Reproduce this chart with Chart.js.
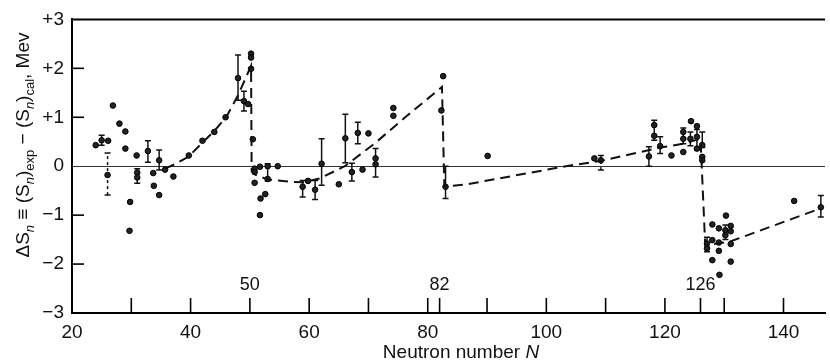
<!DOCTYPE html>
<html>
<head>
<meta charset="utf-8">
<script src="https://cdn.jsdelivr.net/npm/chart.js@4/dist/chart.umd.min.js"></script>
<style>
html,body{margin:0;padding:0;background:#fff;}
#wrap{width:830px;height:364px;position:relative;}
</style>
</head>
<body>
<div id="wrap"><canvas id="c" width="830" height="364"></canvas></div>
<script>
// ---- data ----
const ptN  = [24.0,25.0,26.1,26.0,26.9,28.0,29.0,29.0,29.8,29.7,30.9,31.0,31.0,32.8,33.7,33.8,34.7,34.7,35.7,37.1,
              39.7,42.0,44.0,45.9,48.0,49.0,49.7,50.2,50.2,50.2,50.5,50.8,50.8,50.8,51.7,51.7,51.8,52.6,53.0,53.0,
              54.7,58.9,59.8,61.0,62.1,65.0,66.1,67.2,68.2,69.0,70.0,71.2,71.2,74.2,74.2,82.6,82.3,83.0,
              90.1,108.1,109.2,117.3,118.2,118.2,119.2,121.1,123.1,123.1,123.1,124.4,125.4,124.3,125.4,125.4,126.3,126.3,126.3,
              127.1,127.1,128.0,128.0,128.0,129.1,129.1,129.1,129.2,130.3,130.2,130.2,131.1,131.1,131.1,131.1,141.8,146.3];
const ptDS = [0.43,0.53,0.52,-0.18,1.24,0.87,0.71,0.36,-0.73,-1.32,0.22,-0.13,-0.23,0.31,-0.14,-0.40,-0.59,0.12,-0.07,-0.21,
              0.22,0.52,0.70,1.00,1.80,1.33,1.27,2.30,2.22,1.99,0.55,-0.05,-0.12,-0.34,-0.01,-1.00,-0.66,-0.57,0.00,-0.26,
              0.00,-0.42,-0.30,-0.48,0.05,-0.37,0.57,-0.12,0.68,-0.07,0.67,0.16,0.04,1.19,1.03,1.84,1.14,-0.42,
              0.21,0.16,0.12,0.20,0.84,0.62,0.41,0.22,0.29,0.70,0.56,0.92,0.82,0.56,0.60,0.36,0.43,0.19,0.12,
              -1.58,-1.68,-1.19,-1.51,-1.92,-1.27,-1.56,-1.73,-2.22,-1.01,-1.31,-1.41,-1.22,-1.33,-1.59,-1.95,-0.71,-0.84];

// solid error bars
const errN  = [25.0,31.0,32.8,34.7,48.0,49.0,53.0,58.9,61.0,62.1,66.1,67.2,68.2,71.2,83.0,117.3,118.2,119.2,123.1,124.3,125.4,126.3,127.1,130.2,146.3];
const errLo = [0.43,-0.35,0.08,-0.08,1.35,1.13,-0.30,-0.63,-0.68,-0.39,0.07,-0.30,0.46,-0.22,-0.66,0.00,0.53,0.26,0.46,0.42,0.33,0.38,-1.75,-1.50,-1.04];
const errHi = [0.63,-0.05,0.52,0.33,2.27,1.53,0.05,-0.29,-0.29,0.56,1.06,0.06,0.90,0.36,0.00,0.40,0.94,0.60,0.78,0.70,0.75,0.70,-1.45,-1.20,-0.60];
// dashed error bars
const dErrN  = [26.0,109.2];
const dErrLo = [-0.59,-0.08];
const dErrHi = [0.27,0.22];

// dashed theoretical curve
const curveN  = [35.7,37.5,39.7,42.0,44.0,46.0,48.0,50.2,50.3,51.0,53.0,57.0,59.0,61.8,66.0,71.0,76.6,82.4,
                 82.8,86.6,103.3,109.2,119.2,123.1,126.0,126.8,131.0,146.3];
const curveDS = [-0.05,0.05,0.20,0.48,0.72,1.00,1.45,2.05,-0.10,-0.18,-0.27,-0.32,-0.33,-0.25,0.00,0.46,1.04,1.62,
                 -0.42,-0.37,0.00,0.11,0.38,0.46,0.56,-1.62,-1.54,-0.86];

const xTickVals = [20,30,40,50,60,70,80,82,90,100,110,120,126,130,140];
const xLabelVals = [20,40,60,80,100,120,140];
const magicN = [50,82,126];
const yTickVals = [-3,-2,-1,0,1,2,3];

const FONT = "'Liberation Sans', Arial, Helvetica, sans-serif";

const extras = {
  id: 'extras',
  beforeDatasetsDraw(chart) {
    const {ctx, scales:{x, y}} = chart;
    ctx.save();
    ctx.strokeStyle = '#111';
    ctx.lineWidth = 1.5;
    const bar = (n, lo, hi, dashed) => {
      const px = x.getPixelForValue(n);
      const p1 = y.getPixelForValue(lo), p2 = y.getPixelForValue(hi);
      ctx.setLineDash(dashed ? [3,3] : []);
      ctx.beginPath(); ctx.moveTo(px, p1); ctx.lineTo(px, p2); ctx.stroke();
      ctx.setLineDash([]);
      ctx.beginPath();
      ctx.moveTo(px-3, p1); ctx.lineTo(px+3, p1);
      ctx.moveTo(px-3, p2); ctx.lineTo(px+3, p2);
      ctx.stroke();
    };
    errN.forEach((n,i)=>bar(n, errLo[i], errHi[i], false));
    dErrN.forEach((n,i)=>bar(n, dErrLo[i], dErrHi[i], true));
    ctx.restore();
  },
  afterDraw(chart) {
    const {ctx, chartArea:a, scales:{x, y}} = chart;
    ctx.save();
    ctx.strokeStyle = '#000';
    // top frame
    ctx.lineWidth = 2;
    ctx.beginPath(); ctx.moveTo(a.left, y.getPixelForValue(3)); ctx.lineTo(a.right, y.getPixelForValue(3)); ctx.stroke();
    // inward x ticks
    ctx.lineWidth = 1.6;
    xTickVals.forEach(v => {
      if (v === 20) return;
      const px = x.getPixelForValue(v);
      ctx.beginPath(); ctx.moveTo(px, a.bottom); ctx.lineTo(px, a.bottom - 15); ctx.stroke();
    });
    // inward y ticks
    yTickVals.forEach(v => {
      if (v === 3 || v === -3 || v === 0) return;
      const py = y.getPixelForValue(v);
      ctx.beginPath(); ctx.moveTo(a.left, py); ctx.lineTo(a.left + 12, py); ctx.stroke();
    });
    // magic numbers
    ctx.fillStyle = '#111';
    ctx.font = '18px ' + FONT;
    ctx.textAlign = 'center'; ctx.textBaseline = 'middle';
    magicN.forEach(v => ctx.fillText(String(v), x.getPixelForValue(v), a.bottom - 28));

    // x title
    ctx.textBaseline = 'alphabetic';
    ctx.textAlign = 'left';
    const t1 = 'Neutron number ';
    const fx = 19;
    ctx.font = fx + 'px ' + FONT;
    const w1 = ctx.measureText(t1).width;
    ctx.font = 'italic ' + fx + 'px ' + FONT;
    const w2 = ctx.measureText('N').width;
    const cx = 461;
    let sx = cx - (w1 + w2) / 2;
    ctx.font = fx + 'px ' + FONT; ctx.fillText(t1, sx, 358);
    ctx.font = 'italic ' + fx + 'px ' + FONT; ctx.fillText('N', sx + w1, 358);

    // y title with subscripts (rotated)
    const runs = [
      ['\u0394S', 0], ['n', 1, true], [' \u2261 (S', 0], ['n', 1, true], [')', 0], ['exp', 1],
      [' \u2212 (S', 0], ['n', 1, true], [')', 0], ['cal', 1], [', Mev', 0]
    ];
    const fMain = 19, fSub = 13;
    const fontOf = r => (r[2] ? 'italic ' : '') + (r[1] ? fSub : fMain) + 'px ' + FONT;
    let total = 0;
    runs.forEach(r => { ctx.font = fontOf(r); total += ctx.measureText(r[0]).width; });
    ctx.translate(29, 145);
    ctx.rotate(-Math.PI/2);
    let tx = -total/2;
    runs.forEach(r => {
      ctx.font = fontOf(r);
      ctx.fillText(r[0], tx, r[1] ? 5 : 0);
      tx += ctx.measureText(r[0]).width;
    });
    ctx.restore();
  }
};

new Chart(document.getElementById('c'), {
  type: 'scatter',
  data: {
    datasets: [
      {
        label: 'curve',
        type: 'line',
        data: curveN.map((n,i)=>({x:n, y:curveDS[i]})),
        borderColor: '#111',
        borderWidth: 2,
        borderDash: [10,6],
        pointRadius: 0,
        fill: false,
        tension: 0
      },
      {
        label: 'exp',
        data: ptN.map((n,i)=>({x:n, y:ptDS[i]})),
        pointRadius: 2.8,
        pointBackgroundColor: '#222',
        pointBorderColor: '#000',
        pointBorderWidth: 1
      }
    ]
  },
  options: {
    responsive: false,
    animation: false,
    events: [],
    layout: { padding: { top: 19, right: 0, left: 0, bottom: 0 } },
    plugins: { legend: { display: false }, tooltip: { enabled: false }, title: { display: false } },
    scales: {
      x: {
        type: 'linear', min: 20, max: 147,
        afterBuildTicks: s => { s.ticks = xTickVals.map(v => ({ value: v })); },
        afterFit: s => { s.height = 51; },
        grid: { display: true, drawTicks: false, color: 'rgba(0,0,0,0)' },
        border: { display: true, color: '#000', width: 2 },
        ticks: {
          autoSkip: false, maxRotation: 0, padding: 8, color: '#111',
          font: { family: FONT, size: 19 },
          callback: v => xLabelVals.includes(v) ? String(v) : ''
        }
      },
      y: {
        type: 'linear', min: -3, max: 3,
        afterBuildTicks: s => { s.ticks = yTickVals.map(v => ({ value: v })); },
        afterFit: s => { s.width = 72; },
        grid: {
          drawTicks: false,
          color: c => c.tick && c.tick.value === 0 ? '#333' : 'rgba(0,0,0,0)',
          lineWidth: 1
        },
        border: { display: true, color: '#000', width: 2 },
        ticks: {
          padding: 8, color: '#111',
          font: { family: FONT, size: 19 },
          callback: v => v > 0 ? '+' + v : (v < 0 ? '\u2212' + Math.abs(v) : '0')
        }
      }
    }
  },
  plugins: [extras]
});
</script>
</body>
</html>
